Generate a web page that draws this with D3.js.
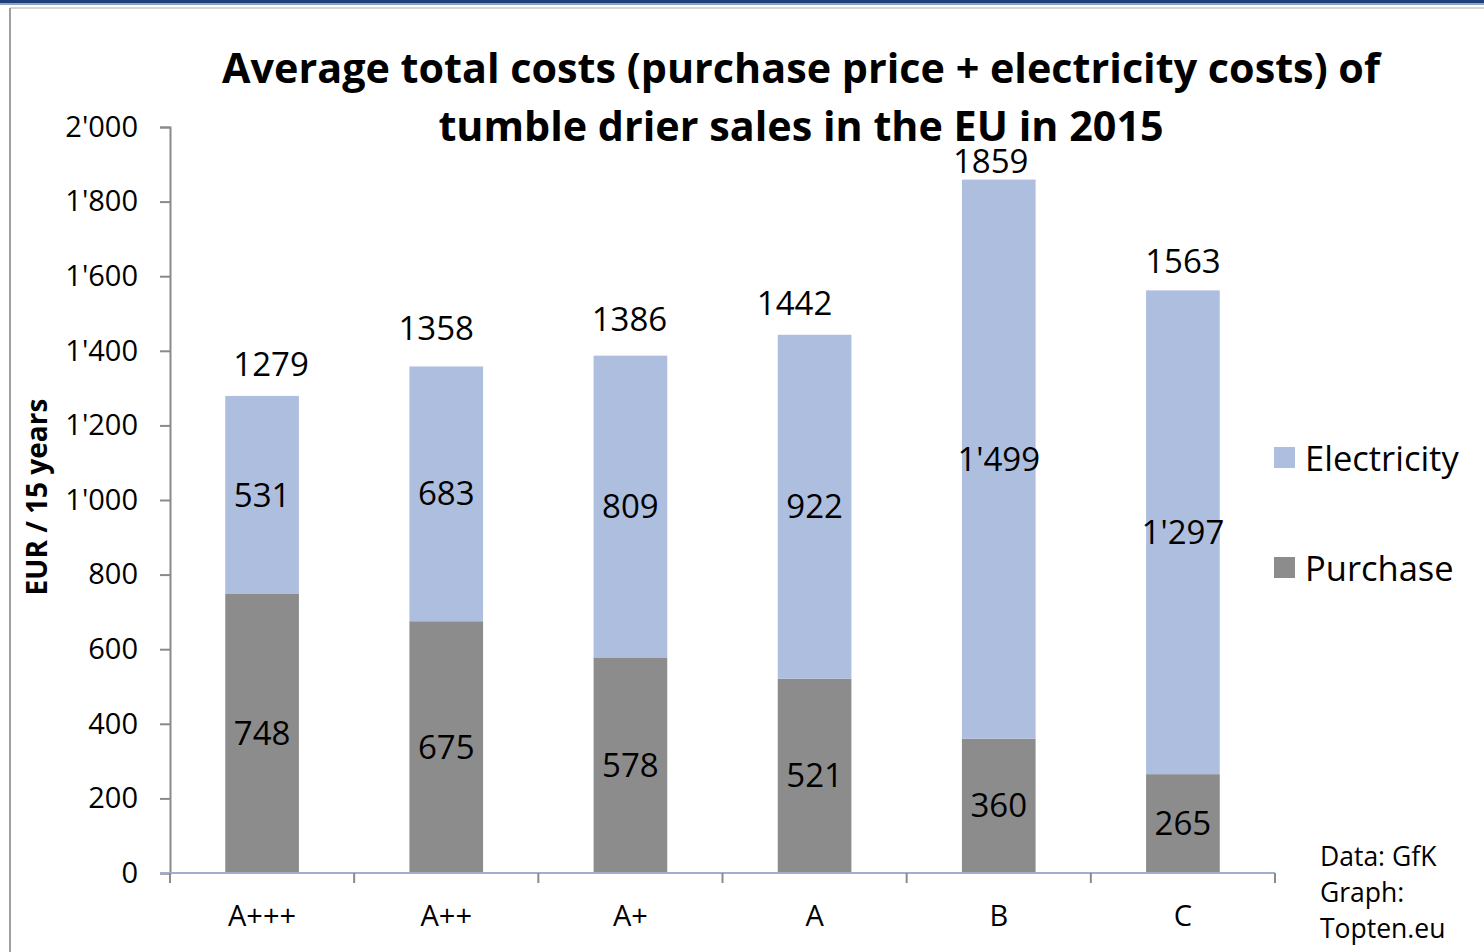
<!DOCTYPE html>
<html><head><meta charset="utf-8">
<script src="https://cdn.jsdelivr.net/npm/d3@7"></script>
<style>body{margin:0;background:#fff;}svg{display:block;font-family:"Open Sans",sans-serif;}</style>
</head><body>
<script>
const categories = ["A+++","A++","A+","A","B","C"];
const purchase = [748,675,578,521,360,265];
const electricity = [531,683,809,922,1499,1297];
const totals = [1279,1358,1386,1442,1859,1563];
const yTicks = [0,200,400,600,800,1000,1200,1400,1600,1800,2000];
const seriesNames = ["Electricity","Purchase"];
const colors = {Electricity:"#adbedf", Purchase:"#8c8c8c"};
const titleLines = ["Average total costs (purchase price + electricity costs) of","tumble drier sales in the EU in 2015"];
const yTitle = "EUR / 15 years";
const sourceLines = ["Data: GfK","Graph:","Topten.eu"];

// layout nudges of the total labels (pixels), as placed in the original
const totalNudgeX = [9,-10,-1,-20,-8,0];
const totalNudgeY = [-20,-26,-25,-20,-7,-17];

const W=1484,H=952;
const svg=d3.select("body").append("svg").attr("width",W).attr("height",H);

// frame
svg.append("rect").attr("x",0).attr("y",0).attr("width",W).attr("height",3).attr("fill","#1e3f78");
svg.append("rect").attr("x",0).attr("y",3).attr("width",W).attr("height",2).attr("fill","#8da3c8");
svg.append("line").attr("x1",10).attr("x2",W).attr("y1",8).attr("y2",8).attr("stroke","#c8c8c8").attr("stroke-width",1.5);
svg.append("line").attr("x1",10).attr("x2",10).attr("y1",8).attr("y2",H).attr("stroke","#a0a0a0").attr("stroke-width",2);

const x=d3.scaleBand().domain(categories).range([170,1275]).paddingInner(0.6).paddingOuter(0.3);
const y=d3.scaleLinear().domain([0,2000]).range([873,127]);

const fmt=d=>d3.format(",")(d).replace(/,/g,"'");

// y axis
const yAx=svg.append("g").attr("transform","translate(170,0)")
  .call(d3.axisLeft(y).tickValues(yTicks).tickFormat(fmt).tickSize(10).tickPadding(22));
yAx.select(".domain").attr("stroke","#8a8a8a").attr("stroke-width",2);
yAx.selectAll(".tick line").attr("stroke","#8a8a8a").attr("stroke-width",2);
yAx.selectAll(".tick text").attr("font-size",29).attr("fill","#000").attr("font-family","Open Sans");

// bars
const stackData=categories.map((c,i)=>({c,Purchase:purchase[i],Electricity:electricity[i]}));
const stack=d3.stack().keys(["Purchase","Electricity"])(stackData);
const g=svg.append("g");
stack.forEach(s=>{
  g.selectAll(null).data(s).enter().append("rect")
   .attr("x",d=>x(d.data.c)).attr("width",x.bandwidth())
   .attr("y",d=>y(d[1])).attr("height",d=>y(d[0])-y(d[1]))
   .attr("fill",colors[s.key]);
  g.selectAll(null).data(s).enter().append("text")
   .attr("x",d=>x(d.data.c)+x.bandwidth()/2).attr("y",d=>y((d[0]+d[1])/2))
   .attr("dy","0.35em").attr("text-anchor","middle").attr("font-size",33).attr("fill","#000")
   .text(d=>fmt(d[1]-d[0]));
});
// totals
g.selectAll(null).data(categories).enter().append("text")
  .attr("x",(c,i)=>x(c)+x.bandwidth()/2+totalNudgeX[i])
  .attr("y",(c,i)=>y(purchase[i]+electricity[i])+totalNudgeY[i])
  .attr("text-anchor","middle").attr("font-size",33).attr("fill","#000")
  .text((c,i)=>totals[i]);

// x axis
const xTickPos=d3.scaleLinear().domain([0,categories.length]).range([170,1275]);
const xg=svg.append("g");
xg.append("line").attr("x1",160).attr("x2",1275).attr("y1",873).attr("y2",873).attr("stroke","#9fb0cc").attr("stroke-width",2);
xg.selectAll(null).data(d3.range(categories.length+1)).enter().append("line")
  .attr("x1",d=>xTickPos(d)).attr("x2",d=>xTickPos(d)).attr("y1",873).attr("y2",883)
  .attr("stroke","#8a8a8a").attr("stroke-width",2);
xg.selectAll(null).data(categories).enter().append("text")
  .attr("x",c=>x(c)+x.bandwidth()/2).attr("y",926).attr("text-anchor","middle")
  .attr("font-size",29).attr("fill","#000").text(c=>c);

// title
svg.append("g").selectAll("text").data(titleLines).enter().append("text")
  .attr("x",801).attr("y",(d,i)=>83+i*58).attr("text-anchor","middle")
  .attr("font-size",41.3).attr("font-weight","bold").attr("fill","#000").text(d=>d);

// y title
svg.append("text").attr("transform","translate(47,497) rotate(-90)").attr("text-anchor","middle")
  .attr("font-size",28).attr("font-weight","bold").text(yTitle);

// legend
const lg=svg.append("g");
seriesNames.forEach((n,i)=>{
  lg.append("rect").attr("x",1274).attr("y",447+i*110).attr("width",21).attr("height",21).attr("fill",colors[n]);
  lg.append("text").attr("x",1305).attr("y",471+i*110).attr("font-size",34.5).attr("fill","#000").text(n);
});

// source
svg.append("g").selectAll("text").data(sourceLines).enter().append("text")
  .attr("x",1320).attr("y",(d,i)=>866+i*36).attr("font-size",26.5).attr("fill","#000").text(d=>d);
</script>
</body></html>
